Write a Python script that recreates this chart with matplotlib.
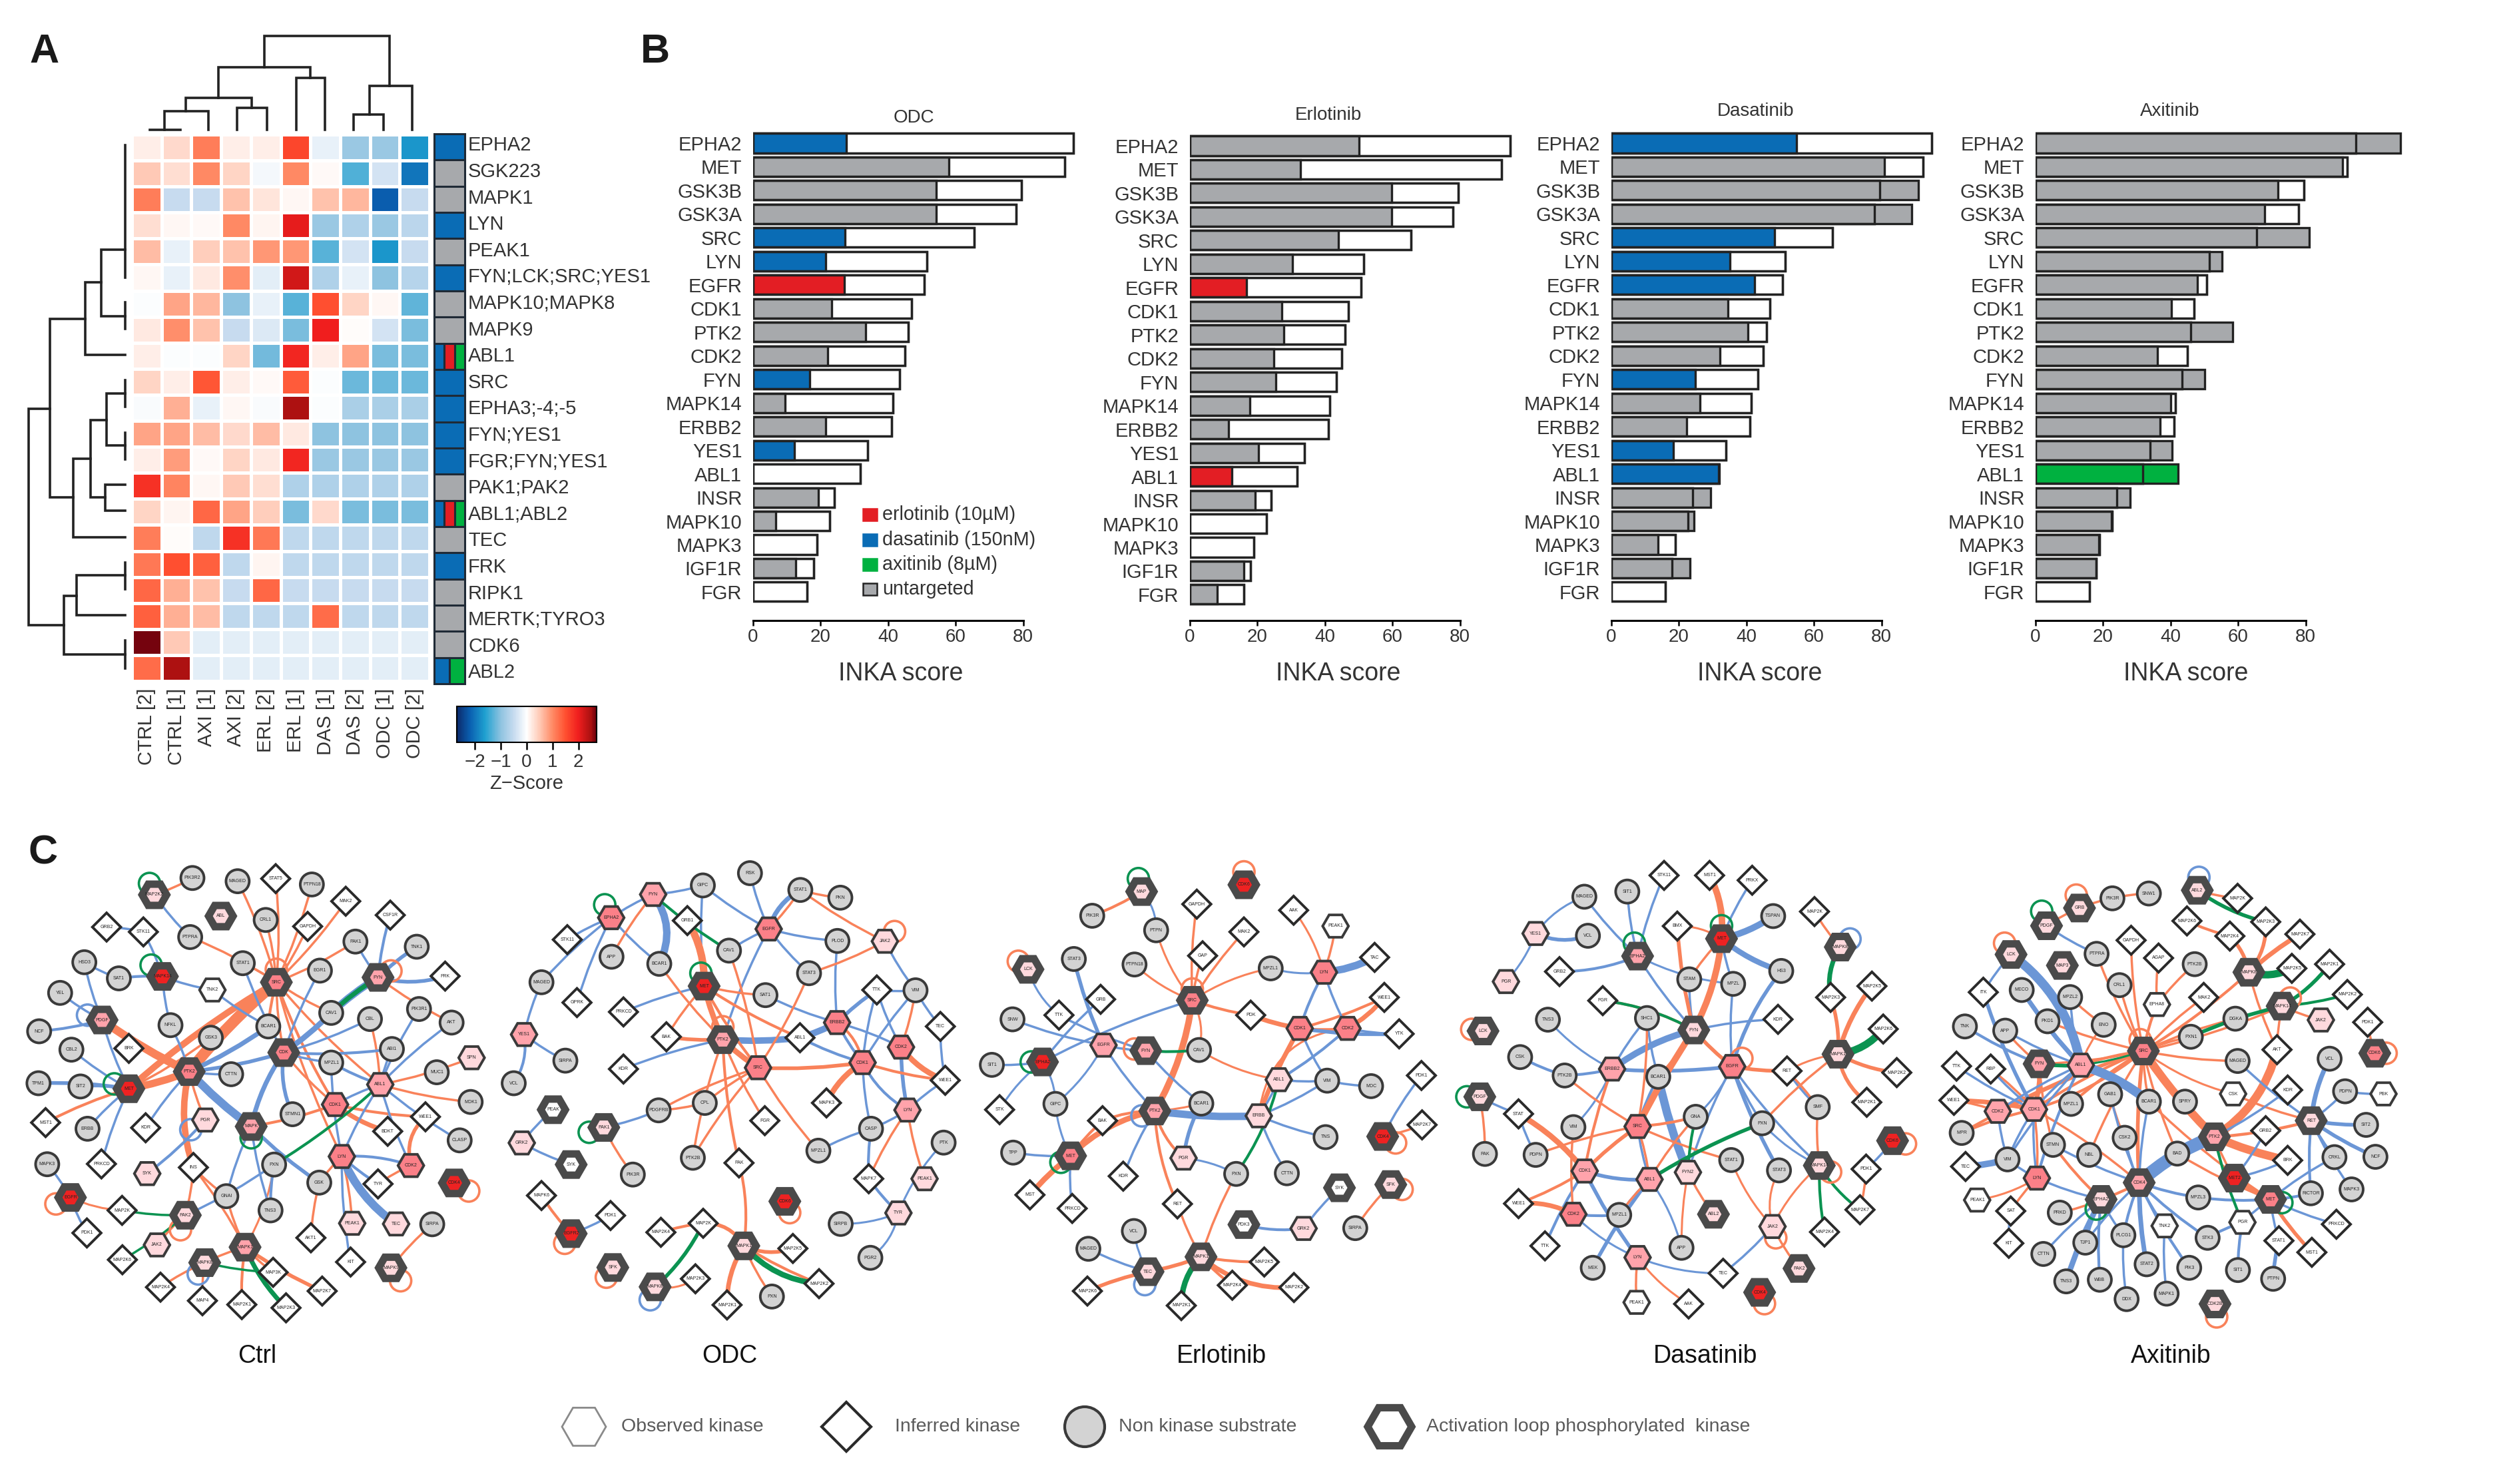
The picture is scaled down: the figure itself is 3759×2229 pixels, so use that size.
import numpy as np
import matplotlib
matplotlib.use("Agg")
import matplotlib.pyplot as plt
from matplotlib.colors import LinearSegmentedColormap
from matplotlib.patches import Circle, PathPatch, Rectangle, RegularPolygon
from matplotlib.path import Path

plt.rcParams["font.family"] = ["Liberation Sans", "DejaVu Sans"]

W, H = 3759, 2229
TEXT = "#333333"

# ---- panel A data
kinases = ["EPHA2", "SGK223", "MAPK1", "LYN", "PEAK1", "FYN;LCK;SRC;YES1", "MAPK10;MAPK8", "MAPK9",
           "ABL1", "SRC", "EPHA3;-4;-5", "FYN;YES1", "FGR;FYN;YES1", "PAK1;PAK2", "ABL1;ABL2", "TEC",
           "FRK", "RIPK1", "MERTK;TYRO3", "CDK6", "ABL2"]
samples = ["CTRL [2]", "CTRL [1]", "AXI [1]", "AXI [2]", "ERL [2]", "ERL [1]", "DAS [1]", "DAS [2]", "ODC [1]", "ODC [2]"]
zscores = [
    [0.15, 0.35, 1.1, 0.15, 0.15, 1.6, -0.2, -0.9, -0.9, -1.7],
    [0.5, 0.3, 1.0, 0.4, -0.1, 1.0, 0.05, -1.35, -0.4, -2.0],
    [1.1, -0.5, -0.5, 0.55, 0.25, 0.08, 0.55, 0.65, -2.2, -0.5],
    [0.3, 0.08, 0.05, 1.0, 0.1, 2.05, -0.9, -0.7, -0.9, -0.6],
    [0.6, -0.2, 0.45, 0.55, 0.9, 0.9, -1.3, -0.4, -1.7, -0.5],
    [0.08, -0.2, 0.2, 0.95, -0.25, 2.2, -0.7, -0.2, -1.0, -0.65],
    [-0.03, 0.8, 0.65, -1.0, -0.2, -1.3, 1.5, 0.4, 0.08, -1.25],
    [0.2, 0.95, 0.55, -0.5, -0.3, -1.1, 2.0, 0.03, -0.4, -1.1],
    [0.15, -0.03, -0.03, 0.4, -1.15, 1.9, 0.15, 0.8, -1.1, -1.1],
    [0.4, 0.15, 1.45, 0.15, 0.05, 1.4, -0.03, -1.2, -1.2, -1.2],
    [-0.05, 0.7, -0.2, 0.07, -0.05, 2.45, -0.03, -0.75, -0.75, -0.75],
    [0.8, 0.8, 0.6, 0.35, 0.6, 0.2, -1.0, -1.0, -1.0, -1.0],
    [0.15, 0.85, 0.05, 0.4, 0.2, 1.9, -0.9, -0.9, -0.9, -0.9],
    [1.8, 1.05, 0.07, 0.5, 0.3, -0.7, -0.7, -0.7, -0.7, -0.7],
    [0.4, 0.1, 1.3, 0.8, 0.45, -1.1, 0.35, -1.1, -1.1, -1.1],
    [1.1, 0.03, -0.55, 1.8, 1.15, -0.55, -0.55, -0.55, -0.55, -0.55],
    [1.15, 1.5, 1.35, -0.55, 0.1, -0.55, -0.55, -0.55, -0.55, -0.55],
    [1.3, 0.7, 0.55, -0.5, 1.3, -0.5, -0.5, -0.5, -0.5, -0.5],
    [1.35, 0.7, 0.6, -0.55, -0.55, -0.55, 1.25, -0.55, -0.55, -0.55],
    [2.65, 0.5, -0.25, -0.25, -0.25, -0.25, -0.25, -0.25, -0.25, -0.25],
    [1.25, 2.45, -0.25, -0.25, -0.25, -0.25, -0.25, -0.25, -0.25, -0.25],
]
# drug targets per row: d dasatinib, e erlotinib, a axitinib, u untargeted
row_targets = ["d", "u", "u", "d", "u", "d", "u", "u", "dea", "d", "d", "d", "d", "u", "dea", "u",
               "d", "u", "u", "u", "da"]
# dendrogram links in figure pixels
col_links = [(397, 585, 54, 101, 129), (328, 466, 101, 147, 117), (555, 619, 129, 172, 195),
             (444.5, 488, 117, 195, 195), (279, 378, 147, 167, 162), (247, 312.5, 167, 195, 195),
             (356, 400.5, 162, 195, 195), (531, 576, 172, 195, 195), (225, 271, 195, 195, 195)]
row_links = [(218, 417, 188, 188, 188), (375, 475, 152, 188, 188), (454, 494, 188, 188, 188),
             (424, 533, 127.5, 152, 188), (479, 747, 75, 127.5, 110), (614, 939, 43, 75, 96),
             (689, 807, 110, 136, 188), (631, 747, 136, 160, 158), (591, 669, 160, 188, 188),
             (571, 611, 188, 188, 188), (650, 690, 188, 188, 188), (728, 767, 158, 188, 188),
             (895, 983, 96, 115, 188), (864, 924, 115, 188, 188), (845, 885, 188, 188, 188),
             (962, 1004, 188, 188, 188)]

# ---- panel B data
bar_kinases = ["EPHA2", "MET", "GSK3B", "GSK3A", "SRC", "LYN", "EGFR", "CDK1", "PTK2", "CDK2", "FYN", "MAPK14",
               "ERBB2", "YES1", "ABL1", "INSR", "MAPK10", "MAPK3", "IGF1R", "FGR"]
ctrl_scores = [94.8, 92.3, 79.5, 77.9, 65.5, 51.5, 50.7, 47, 46, 45, 43.3, 41.4, 41, 34, 31.7, 24, 22.6, 19, 18, 16]
odc_scores = [27.7, 58, 54.3, 54.3, 27.3, 21.5, 27.1, 23.3, 33.3, 22, 16.7, 9.5, 21.5, 12.2, 0, 19.4, 6.7, 0, 12.7, 0]
erl_scores = [50, 32.7, 59.7, 59.7, 44, 30.4, 16.8, 27.2, 27.9, 24.9, 25.4, 17.8, 11.5, 20.3, 12.4, 19.3, 0, 0, 15.9, 8.1]
das_scores = [54.8, 80.8, 91, 89, 48.3, 35.1, 42.5, 34.6, 40.4, 32.2, 24.8, 26.2, 22.3, 18.3, 32, 29.3, 24.4, 13.9, 23.2, 0]
axi_scores = [108, 91, 71.7, 67.8, 81, 55.3, 48, 40.3, 58.3, 36, 50, 40, 36.8, 40.5, 42.3, 28, 22.5, 18.8, 18, 0]
odc_targeted = {"EPHA2": "d", "SRC": "d", "LYN": "d", "EGFR": "e", "FYN": "d", "YES1": "d"}
erl_targeted = {"EGFR": "e", "ABL1": "e"}
das_targeted = {"EPHA2": "d", "SRC": "d", "LYN": "d", "EGFR": "d", "FYN": "d", "YES1": "d", "ABL1": "d"}
axi_targeted = {"ABL1": "a"}

# ---- panel C data: nodes (name, x, y, kind), edges (a, b, colour[, width[, bend]])
# kind: c substrate, d inferred, h observed, a activation loop; second letter is the fill
ctrl_nodes = [
    ("PIK3R2", 555, 80, "c"), ("MAGED", 695, 90, "c"), ("STAT5", 813, 82, "d"), ("PTPN18", 925, 100, "c"),
    ("MAK2", 1030, 152, "d"), ("CSF1R", 1168, 195, "d"), ("CRL1", 782, 210, "c"), ("GAPDH", 912, 230, "d"),
    ("MAP2K2", 437, 132, "ap"), ("ABL", 643, 198, "ap"), ("PTPRA", 548, 263, "c"), ("GRB2", 289, 232, "d"),
    ("STK11", 403, 247, "d"), ("PAK1", 1060, 277, "c"), ("TNK1", 1250, 293, "c"), ("HSD3", 220, 341, "c"),
    ("SAT1", 327, 391, "c"), ("MAPK14", 462, 385, "ar"), ("TNK2", 617, 427, "hw"), ("STAT1", 711, 344, "c"),
    ("SRC", 815, 403, "as"), ("FYN", 1130, 388, "ak"), ("FRK", 1338, 384, "d"), ("YEL", 145, 436, "c"),
    ("EGR1", 950, 367, "c"), ("CAV1", 985, 498, "c"), ("CBL", 1105, 517, "c"), ("PIK3R1", 1257, 486, "c"),
    ("AKT", 1358, 528, "c"), ("PDGF", 275, 520, "ak"), ("NCF", 80, 555, "c"), ("NFKL", 487, 536, "c"),
    ("GSK3", 612, 575, "c"), ("BRK", 358, 608, "d"), ("BCAR1", 790, 540, "c"), ("CDK", 838, 621, "as"),
    ("CBL2", 180, 612, "c"), ("ABI1", 1173, 610, "c"), ("SPN", 1420, 637, "hp"), ("TPM1", 78, 716, "c"),
    ("SIT2", 208, 726, "c"), ("MET", 358, 733, "ar"), ("PTK2", 545, 680, "as"), ("CTTN", 675, 688, "c"),
    ("MPZL1", 985, 652, "c"), ("MUC1", 1312, 682, "c"), ("ABL1", 1137, 720, "hk"), ("MDK1", 1417, 774, "c"),
    ("WEE1", 1277, 820, "d"), ("STMN1", 865, 812, "c"), ("PGR", 595, 830, "hp"), ("MAPK", 737, 850, "ak"),
    ("CDK1", 997, 782, "hs"), ("BDKT", 1160, 865, "d"), ("MST1", 100, 838, "d"), ("ERBB", 230, 857, "c"),
    ("KDR", 410, 854, "d"), ("CLASP", 1383, 893, "c"), ("PRKCD", 273, 966, "d"), ("MAPK3", 105, 967, "c"),
    ("SYK", 415, 996, "hp"), ("INS", 558, 977, "d"), ("PXN", 808, 968, "c"), ("LYN", 1018, 943, "hs"),
    ("CDK2", 1232, 971, "hs"), ("TYR", 1130, 1028, "d"), ("GSK", 948, 1024, "c"), ("EGFR", 177, 1070, "ar"),
    ("GNAI", 660, 1066, "c"), ("CDK4", 1366, 1025, "ar"), ("MAP2K", 337, 1110, "d"), ("PAK2", 533, 1125, "ap"),
    ("TNS3", 797, 1110, "c"), ("PEAK1", 1050, 1150, "hp"), ("TEC", 1186, 1152, "hp"), ("SIRPA", 1298, 1153, "c"),
    ("PDK1", 228, 1180, "d"), ("JAK2", 445, 1217, "hp"), ("MAPK1", 718, 1224, "ak"), ("AKT1", 922, 1195, "d"),
    ("MAP2K6", 338, 1263, "d"), ("MAPK8", 593, 1272, "ap"), ("KIT", 1045, 1270, "d"), ("MAPK9", 1170, 1288, "ap"),
    ("MAP3K", 805, 1302, "d"), ("MAP2K4", 456, 1348, "d"), ("MAP2K7", 957, 1360, "d"), ("MAP4", 586, 1390, "d"),
    ("MAP2K1", 708, 1402, "d"), ("MAP2K3", 845, 1412, "d"),
]
ctrl_edges = [
    ("SRC", "MAGED", "o"), ("SRC", "STAT5", "o"), ("SRC", "PTPN18", "o"), ("SRC", "GAPDH", "o"), ("SRC", "CRL1", "o"),
    ("SRC", "MAK2", "o"), ("SRC", "PAK1", "o"), ("SRC", "STAT1", "o"), ("SRC", "PTPRA", "o"), ("MAP2K2", "PIK3R2", "o"),
    ("SRC", "ABL1", "o"), ("SRC", "PTK2", "o", 12), ("SRC", "MET", "o", 7), ("SRC", "CDK1", "o", 3), ("SRC", "CAV1", "o"),
    ("SRC", "BCAR1", "o", 3), ("SRC", "CDK", "o", 2.5), ("SRC", "LYN", "o"), ("FYN", "AKT", "o"), ("PDGF", "PTK2", "o", 9),
    ("MET", "PTK2", "o", 8), ("MET", "MST1", "o", 3), ("MET", "GSK3", "o"), ("PTK2", "INS", "o", 7, 0.15),
    ("PTK2", "PGR", "o"), ("MAPK", "CDK1", "o", 3), ("CDK1", "BDKT", "o", 5, 0.1), ("CDK1", "WEE1", "o", 3),
    ("ABL1", "SPN", "o"), ("ABL1", "MDK1", "o"), ("ABL1", "CBL", "o"), ("CDK2", "WEE1", "o", 4, -0.3), ("CDK2", "TYR", "o"),
    ("LYN", "GSK", "o"), ("GSK", "AKT1", "o"), ("PEAK1", "LYN", "o"), ("SIRPA", "MAPK9", "o"), ("MAPK1", "PXN", "o", 2.2, 0.1),
    ("MAPK1", "INS", "o"), ("MAPK1", "MAPK8", "o"), ("MAPK1", "MAP2K7", "o", 4), ("MAPK1", "MAP2K1", "o", 3),
    ("MAPK1", "MAP3K", "o"), ("MAPK8", "MAP2K4", "o"), ("MAPK8", "MAP4", "o"), ("EGFR", "MAP2K", "o", 2.2, 0.1),
    ("PAK2", "JAK2", "o"), ("PAK2", "INS", "o"), ("INS", "GNAI", "o"), ("GNAI", "MAPK1", "o"), ("CDK", "CDK1", "o"),
    ("MET", "TPM1", "b", 4), ("MET", "SIT2", "b"), ("MET", "PRKCD", "b"), ("MET", "ERBB", "b"), ("MAP2K2", "PTPRA", "b"),
    ("MAPK14", "SAT1", "b", 3), ("MAPK14", "TNK2", "b"), ("MAPK14", "STK11", "b"), ("MAPK14", "NFKL", "b"),
    ("STK11", "GRB2", "b"), ("HSD3", "SAT1", "b"), ("HSD3", "PDGF", "b"), ("YEL", "PDGF", "b"), ("NCF", "PDGF", "b", 3),
    ("PDGF", "MET", "b"), ("CBL2", "MET", "b"), ("PTK2", "CDK", "b", 4), ("PTK2", "MAPK", "b", 9), ("PTK2", "BCAR1", "b", 5),
    ("PTK2", "CTTN", "b"), ("PTK2", "KDR", "b"), ("PTK2", "NFKL", "b"), ("CDK", "MAPK", "b", 5, 0.1), ("CDK", "MPZL1", "b"),
    ("CDK", "STMN1", "b", 4, 0.15), ("CDK", "ABI1", "b", 3), ("CDK", "CBL", "b"), ("CDK", "CAV1", "b", 6), ("TNK2", "BCAR1", "b"),
    ("STAT1", "CDK", "b"), ("EGR1", "CDK", "b"), ("CSF1R", "FYN", "b", 3), ("TNK1", "FYN", "b", 4), ("PAK1", "FYN", "b"),
    ("FRK", "FYN", "b", 4, -0.15), ("FYN", "CAV1", "b", 8), ("ABI1", "ABL1", "b"), ("PIK3R1", "ABL1", "b"), ("AKT", "ABL1", "b"),
    ("MPZL1", "ABL1", "b", 3), ("MPZL1", "LYN", "b"), ("ABL1", "CDK1", "b"), ("ABL1", "LYN", "b"), ("ABL1", "CLASP", "b"),
    ("ABL1", "CDK2", "b"), ("LYN", "CDK2", "b", 3, -0.1), ("LYN", "TEC", "b", 9, 0.15), ("LYN", "TYR", "b", 3), ("LYN", "KIT", "b"),
    ("MAPK", "GSK", "b", 4), ("MAPK", "TNS3", "b"), ("MAPK", "GNAI", "b"), ("PXN", "TNS3", "b", 3), ("SYK", "PGR", "b", 3),
    ("PAK2", "PXN", "b"), ("EGFR", "MAPK3", "b"), ("EGFR", "PDK1", "b"),
    ("FYN", "CAV1", "g", 5), ("PXN", "ABL1", "g", 3), ("MAP2K", "PAK2", "g"), ("MAP2K6", "PAK2", "g"), ("MAPK8", "MAP3K", "g"),
    ("MAPK1", "MAP2K3", "g", 5, 0.1),
]
ctrl_loops = [("MAP2K2", "g", -15, -35), ("MAPK14", "g", -35, -35), ("PDGF", "b", -45, -15), ("MET", "g", -45, -15),
              ("PGR", "b", -45, 30), ("MAPK", "g", 0, 35), ("SRC", "o", 0, -40), ("FYN", "o", 40, -20), ("EGFR", "o", -45, 20),
              ("PAK2", "o", -15, 45), ("CDK4", "o", 45, 25), ("MAPK8", "b", -20, 35), ("MAPK9", "o", 30, 40)]

odc_nodes = [
    ("RSK", 797, 65, "c"), ("GIPC", 651, 103, "c"), ("FYN", 497, 131, "hk"), ("STAT1", 953, 117, "c"), ("PKN", 1077, 141, "c"),
    ("EPHA2", 367, 203, "hs"), ("GRB1", 603, 212, "d"), ("EGFR", 855, 238, "hs"), ("JAK2", 1215, 276, "hp"), ("PLOD", 1068, 275, "c"),
    ("STK11", 231, 271, "d"), ("CAV1", 732, 305, "c"), ("APP", 368, 324, "c"), ("BCAR1", 516, 346, "c"), ("STAT3", 980, 375, "c"),
    ("MET", 655, 415, "ar"), ("MAGED", 151, 403, "c"), ("TTK", 1190, 427, "d"), ("VIM", 1310, 428, "c"), ("SAT1", 845, 443, "c"),
    ("GPRK", 261, 466, "d"), ("PRKCD", 405, 495, "d"), ("ERBB2", 1067, 528, "hs"), ("TEC", 1387, 540, "d"), ("YES1", 97, 565, "hk"),
    ("BAK", 538, 572, "d"), ("PTK2", 713, 581, "ak"), ("ABL1", 952, 575, "d"), ("CDK2", 1265, 604, "hs"), ("SIRPA", 225, 646, "c"),
    ("KDR", 405, 672, "d"), ("SRC", 822, 668, "hs"), ("CDK1", 1146, 652, "hs"), ("WEE1", 1402, 707, "d"), ("VCL", 65, 716, "c"),
    ("MAPK3", 1034, 777, "d"), ("CPL", 657, 777, "c"), ("PDGFRB", 514, 800, "c"), ("PEAK", 187, 798, "aw"), ("LYN", 1285, 799, "hk"),
    ("FGR", 843, 832, "d"), ("PAK1", 344, 853, "ap"), ("CASP", 1172, 857, "c"), ("GRK2", 90, 901, "hp"), ("PTK", 1397, 900, "c"),
    ("MPZL1", 1009, 925, "c"), ("PTK2B", 620, 947, "c"), ("PAK", 763, 963, "d"), ("SYK", 243, 968, "aw"), ("PIK3R", 434, 999, "c"),
    ("MAPK7", 1165, 1012, "d"), ("PEAK1", 1338, 1012, "hp"), ("MAPK6", 151, 1064, "d"), ("CDK6", 905, 1082, "ar"), ("PDK1", 365, 1126, "d"),
    ("TYR", 1257, 1118, "hp"), ("SIRPB", 1078, 1152, "c"), ("MAP2K4", 521, 1178, "d"), ("MAP2K", 652, 1150, "d"), ("EGFR2", 243, 1182, "ar"),
    ("MAPK1", 778, 1220, "ap"), ("MAP2K5", 930, 1228, "d"), ("PGR2", 1170, 1257, "c"), ("SFK", 372, 1287, "ap"), ("MAP2K3", 628, 1322, "d"),
    ("MAP2K2", 1011, 1337, "d"), ("MAPK8", 503, 1347, "ap"), ("PXN", 865, 1377, "c"), ("MAP2K1", 726, 1403, "d"),
]
odc_edges = [
    ("FYN", "GIPC", "b"), ("FYN", "EPHA2", "b"), ("FYN", "BCAR1", "b", 8, -0.3), ("EPHA2", "BCAR1", "b"), ("EPHA2", "STK11", "b"),
    ("EPHA2", "MAGED", "b"), ("EPHA2", "GPRK", "b"), ("GIPC", "EGFR", "b"), ("GIPC", "MET", "b"), ("RSK", "EGFR", "b"),
    ("STAT1", "EGFR", "b", 5, 0.2), ("EGFR", "CAV1", "b"), ("EGFR", "PLOD", "b"), ("EGFR", "STAT3", "b"), ("EGFR", "PTK2", "b"),
    ("PLOD", "ERBB2", "b"), ("JAK2", "VIM", "b"), ("TTK", "VIM", "b"), ("TTK", "ERBB2", "b", 4), ("TTK", "CDK1", "b"), ("TTK", "CDK2", "b"),
    ("VIM", "TEC", "b"), ("VIM", "CDK1", "b"), ("ERBB2", "CDK1", "b", 3), ("CDK2", "ERBB2", "b"), ("CDK2", "LYN", "b", 4), ("TEC", "WEE1", "b"),
    ("WEE1", "LYN", "b"), ("LYN", "CDK1", "b", 3, -0.15), ("CDK1", "CASP", "b"), ("CASP", "MPZL1", "b"), ("CASP", "LYN", "b"),
    ("CASP", "MAPK7", "b", 3), ("MAPK7", "TYR", "b", 3), ("PTK", "TYR", "b", 2.2, 0.1), ("TYR", "SIRPB", "b", 2.2, -0.1), ("TYR", "PGR2", "b", 2.2, -0.2),
    ("MET", "PRKCD", "b"), ("PTK2", "KDR", "b"), ("PTK2", "ABL1", "b", 7), ("ABL1", "ERBB2", "b", 7), ("ABL1", "CDK1", "b", 3),
    ("SAT1", "ERBB2", "b"), ("MAGED", "YES1", "b"), ("YES1", "SIRPA", "b"), ("YES1", "VCL", "b", 3, -0.2), ("PAK1", "PDGFRB", "b"),
    ("PEAK", "GRK2", "b"), ("GRK2", "SYK", "b"), ("EGFR2", "PDK1", "b"),
    ("FYN", "APP", "o"), ("MET", "GRB1", "o", 8, 0.15), ("MET", "PTK2", "o", 6), ("MET", "SRC", "o", 3), ("MET", "SAT1", "o"), ("MET", "BAK", "o"),
    ("MET", "ABL1", "o", 3), ("BCAR1", "PTK2", "o"), ("BAK", "PTK2", "o", 4), ("SRC", "CAV1", "o"), ("SRC", "STAT3", "o"), ("SRC", "CDK1", "o", 4),
    ("PTK2", "SRC", "o", 6), ("PTK2", "FGR", "o"), ("PTK2", "PAK", "o", 3), ("PTK2", "PTK2B", "o"), ("SRC", "CPL", "o"), ("SRC", "PDGFRB", "o"),
    ("SRC", "MPZL1", "o"), ("SRC", "PTK2B", "o"), ("CDK1", "MAPK3", "o", 6, 0.15), ("CDK1", "WEE1", "o", 3), ("CDK2", "WEE1", "o", 6, 0.15),
    ("CDK2", "VIM", "o"), ("ERBB2", "CDK1", "o", 3, -0.2), ("LYN", "MAPK7", "o"), ("LYN", "PEAK1", "o"), ("STAT3", "JAK2", "o"), ("STAT1", "PKN", "o"),
    ("EGFR", "STAT1", "o"), ("STAT1", "JAK2", "o"), ("PDGFRB", "CPL", "o"), ("PAK1", "PIK3R", "o"), ("MAPK6", "EGFR2", "o", 3), ("PAK", "MAPK1", "o", 3, -0.1),
    ("MAPK1", "MAP2K", "o", 4, 0.3), ("MAP2K", "MAP2K4", "o", 3), ("MAPK1", "MAP2K5", "o", 4, 0.2), ("MAPK1", "MAP2K2", "o", 3), ("MAPK1", "PXN", "o"),
    ("MAPK1", "MAP2K1", "o", 5, 0.15), ("MAPK8", "MAP2K3", "o", 2.2, 0.2),
    ("FYN", "CAV1", "g", 3), ("MAPK8", "MAP2K", "g", 4, 0.1), ("MAPK1", "MAP2K2", "g", 6, 0.2),
]
odc_loops = [("EPHA2", "g", -20, -40), ("MET", "g", -10, -40), ("PAK1", "g", -45, 15), ("JAK2", "o", 30, -30), ("CDK6", "o", 15, 35),
             ("EGFR2", "o", -20, 30), ("SFK", "o", -20, 30), ("MAPK8", "b", -15, 40), ("PTK2", "o", 0, -40)]

erl_nodes = [
    ("CDK6", 842, 101, "ar"), ("MAP", 525, 122, "ap"), ("GAPDH", 696, 161, "d"), ("AAK", 996, 180, "d"), ("PIK3R", 372, 197, "c"),
    ("PEAK1", 1126, 229, "hw"), ("PTPN", 570, 242, "c"), ("MAK2", 842, 247, "d"), ("GAP", 714, 321, "d"), ("TAC", 1247, 326, "d"),
    ("STAT3", 315, 331, "c"), ("PTPN18", 503, 348, "c"), ("LCK", 173, 363, "ap"), ("MPZL1", 925, 360, "c"), ("LYN", 1090, 372, "hs"),
    ("SRC", 682, 459, "as"), ("WEE1", 1277, 450, "d"), ("GRB", 398, 456, "d"), ("TTK", 269, 505, "d"), ("PDK", 863, 505, "d"),
    ("SNW", 125, 518, "c"), ("CDK1", 1015, 546, "hs"), ("CDK2", 1163, 546, "hs"), ("YTK", 1323, 563, "d"), ("EGFR", 407, 598, "hk"),
    ("FYN", 538, 615, "ak"), ("CAV1", 703, 613, "c"), ("SIT1", 61, 659, "c"), ("EPHA2", 218, 650, "ar"), ("PDK1", 1392, 692, "d"),
    ("ABL1", 950, 705, "hp"), ("VIM", 1100, 708, "c"), ("MDC", 1236, 725, "c"), ("GIPC", 258, 780, "c"), ("STK", 85, 798, "d"),
    ("BCAR1", 710, 779, "c"), ("PTK2", 566, 802, "ak"), ("BAK", 404, 832, "d"), ("ERBB", 888, 817, "hp"), ("TNS", 1095, 883, "c"),
    ("CDK4", 1272, 881, "ar"), ("MAP2K7", 1394, 845, "d"), ("TPP", 127, 931, "c"), ("MET", 305, 941, "as"), ("PGR", 655, 948, "hp"),
    ("PXN", 818, 997, "c"), ("CTTN", 975, 995, "c"), ("KDR", 468, 1004, "d"), ("SYK", 1138, 1040, "aw"), ("SFK", 1297, 1030, "ap"),
    ("MST", 179, 1062, "d"), ("RET", 636, 1090, "d"), ("PRKCD", 310, 1104, "d"), ("VCL", 501, 1174, "c"), ("PDK3", 842, 1154, "aw"),
    ("GRK2", 1027, 1166, "hp"), ("SIRPA", 1187, 1165, "c"), ("MAGED", 360, 1229, "c"), ("MAPK1", 709, 1254, "ap"), ("MAP2K5", 905, 1270, "d"),
    ("TEC", 545, 1300, "ap"), ("MAP2K4", 806, 1342, "d"), ("MAP2K2", 997, 1349, "d"), ("MAP2K6", 357, 1360, "d"), ("MAP2K1", 648, 1405, "d"),
]
erl_edges = [
    ("PIK3R", "MAP", "o", 3), ("PTPN", "SRC", "o", 2.2, 0.1), ("PTPN18", "SRC", "o", 2.2, 0.1), ("GAPDH", "SRC", "o"), ("MAK2", "SRC", "o"),
    ("GAP", "SRC", "o"), ("MPZL1", "SRC", "o", 2.2, 0.1), ("SRC", "PDK", "o", 3), ("PDK", "CDK1", "o", 5), ("SRC", "CAV1", "o", 2.2, -0.2),
    ("SRC", "PTK2", "o", 7, -0.1), ("CDK1", "CDK2", "o", 3), ("CDK1", "ERBB", "o", 5), ("CDK2", "WEE1", "o", 5, 0.1), ("CDK1", "WEE1", "o", 3),
    ("CDK2", "ERBB", "o", 2.2, 0.4), ("LYN", "AAK", "o", 2.2, 0.1), ("LYN", "PEAK1", "o"), ("CAV1", "ABL1", "o", 2.2, 0.1), ("PTK2", "BCAR1", "o", 2.2),
    ("PTK2", "BAK", "o", 3, 0.1), ("PTK2", "MET", "o", 6, 0.15), ("BAK", "MET", "o", 3), ("MET", "MST", "o", 6), ("PTK2", "RET", "o", 3, 0.1),
    ("PTK2", "PGR", "o", 3, 0.15), ("RET", "MAPK1", "o"), ("PXN", "MAPK1", "o"), ("TEC", "MAPK1", "o", 4), ("TEC", "MAP2K6", "o", 4), ("MAPK1", "MAP2K5", "o", 3),
    ("MAPK1", "MAP2K2", "o", 5, 0.2), ("MAPK1", "MAP2K4", "o", 3), ("CDK4", "MAP2K7", "o"), ("SFK", "SIRPA", "o"),
    ("MAP", "PTPN", "b", 2.2, -0.2), ("LCK", "TTK", "b", 2.2, 0.15), ("STAT3", "EGFR", "b", 4, 0.05), ("TTK", "FYN", "b"), ("GRB", "EPHA2", "b"),
    ("SNW", "EGFR", "b"), ("EGFR", "FYN", "b"), ("EGFR", "GIPC", "b", 2.2, -0.1), ("EGFR", "PTK2", "b"), ("FYN", "BCAR1", "b"), ("SRC", "EPHA2", "b"),
    ("SIT1", "EPHA2", "b"), ("STK", "EPHA2", "b", 2.2, -0.1), ("EPHA2", "GIPC", "b", 2.2, -0.15), ("GIPC", "MET", "b", 2.2, 0.1), ("TPP", "MET", "b"),
    ("MET", "PRKCD", "b"), ("PTK2", "ERBB", "b", 8, 0.05), ("PTK2", "KDR", "b"), ("BCAR1", "PGR", "b", 4, 0.1), ("PGR", "PXN", "b", 2.2, -0.1), ("ERBB", "ABL1", "b"),
    ("ERBB", "TNS", "b"), ("ERBB", "CTTN", "b"), ("ABL1", "VIM", "b"), ("VIM", "MDC", "b"), ("ABL1", "CDK2", "b", 3), ("CDK1", "VIM", "b"), ("CDK1", "YTK", "b", 4, 0.05),
    ("CDK2", "YTK", "b"), ("MPZL1", "LYN", "b", 2.2, 0.1), ("LYN", "TAC", "b", 8, 0.1), ("LYN", "CDK1", "b", 3), ("LYN", "CDK2", "b"), ("PDK1", "CDK4", "b"),
    ("SYK", "GRK2", "b"), ("PDK3", "GRK2", "b", 3, 0.1), ("VCL", "TEC", "b", 2.2, 0.1), ("MAGED", "TEC", "b"), ("ERBB", "VIM", "b"),
    ("FYN", "CAV1", "g", 3), ("ABL1", "PXN", "g", 3, -0.1), ("MAPK1", "MAP2K1", "g", 6, 0.2),
]
erl_loops = [("MAP", "g", -10, -40), ("CDK6", "o", 0, -40), ("LCK", "o", -30, -25), ("SRC", "o", 0, -35), ("EPHA2", "g", -35, 0), ("FYN", "o", -35, -5),
             ("PTK2", "b", -40, 15), ("MET", "g", -30, 20), ("CDK4", "o", 40, 20), ("SFK", "o", 35, 15), ("TEC", "b", -10, 40)]

das_nodes = [
    ("STK11", 679, 72, "d"), ("MST1", 820, 72, "d"), ("SIT1", 565, 122, "c"), ("PRKX", 952, 87, "d"), ("MAGED", 432, 138, "c"), ("MAP2K", 1145, 184, "d"),
    ("TSPAN", 1017, 198, "c"), ("BMX", 720, 229, "d"), ("YES1", 281, 252, "hp"), ("VCL", 443, 259, "c"), ("MET", 857, 268, "ar"), ("EPHA2", 597, 322, "ak"),
    ("MAPK8", 1225, 294, "ap"), ("HS3", 1042, 368, "c"), ("GRB2", 355, 370, "d"), ("PGR", 189, 401, "hp"), ("STAM", 757, 394, "c"), ("MPZL", 893, 408, "c"),
    ("MAP2K5", 1323, 415, "d"), ("MAP2K3", 1195, 450, "d"), ("FGR", 489, 460, "d"), ("TNS3", 319, 519, "c"), ("SHC1", 626, 514, "c"), ("KDR", 1032, 518, "d"),
    ("FYN", 771, 551, "ap"), ("LCK", 118, 554, "ap"), ("MAP2K6", 1358, 548, "d"), ("CSK", 233, 635, "c"), ("MAPK1", 1218, 626, "ap"), ("ERBB2", 518, 672, "hk"),
    ("EGFR", 890, 664, "hs"), ("RET", 1060, 678, "d"), ("PTK2B", 371, 692, "c"), ("BCAR1", 661, 696, "c"), ("MAP2K2", 1400, 683, "d"), ("PDGF", 108, 758, "ap"),
    ("STAT", 228, 811, "d"), ("MAP2K1", 1307, 775, "d"), ("SMF", 1155, 790, "c"), ("SRC", 597, 850, "hs"), ("GNA", 777, 820, "c"), ("VIM", 398, 852, "c"),
    ("PXN", 983, 840, "c"), ("CDK6", 1387, 894, "ar"), ("PAK", 124, 935, "c"), ("PDPN", 281, 938, "c"), ("STAT1", 887, 954, "c"), ("CDK1", 433, 988, "hk"),
    ("FYN2", 753, 992, "hp"), ("ABL1", 634, 1014, "hk"), ("STAT3", 1035, 986, "c"), ("MAPK14", 1160, 971, "ap"), ("PDK1", 1305, 982, "d"), ("WEE1", 228, 1089, "d"),
    ("ABL2", 832, 1122, "ap"), ("MPZL1", 540, 1124, "c"), ("CDK2", 398, 1122, "hs"), ("MAP2K7", 1286, 1108, "d"), ("JAK2", 1015, 1160, "hp"), ("MAP2K4", 1176, 1177, "d"),
    ("TTK", 310, 1220, "d"), ("APP", 733, 1226, "c"), ("LYN", 597, 1256, "hk"), ("PAK2", 1097, 1290, "ap"), ("MEK", 458, 1288, "c"), ("TEC", 862, 1305, "d"),
    ("CDK4", 975, 1364, "ar"), ("PEAK1", 594, 1395, "hw"), ("AAK", 755, 1400, "d"),
]
das_edges = [
    ("MAGED", "YES1", "b", 2.2, 0.15), ("YES1", "VCL", "b", 4, 0.2), ("YES1", "PGR", "b", 2.2, -0.1), ("MAGED", "EPHA2", "b"), ("SIT1", "EPHA2", "b"), ("STK11", "EPHA2", "b"),
    ("GRB2", "EPHA2", "b", 3, 0.1), ("EPHA2", "MPZL", "b", 2.2, 0.1), ("EPHA2", "FYN", "b"), ("PRKX", "MET", "b"), ("TSPAN", "MET", "b", 7, -0.1), ("MET", "HS3", "b", 6, 0.1),
    ("MET", "MPZL", "b"), ("STAM", "FYN", "b"), ("MPZL", "EGFR", "b"), ("HS3", "EGFR", "b", 4, 0.1), ("TNS3", "ERBB2", "b", 2.2, 0.1), ("CSK", "PTK2B", "b", 3), ("PTK2B", "ERBB2", "b", 3),
    ("ERBB2", "FYN", "b", 7, -0.1), ("ERBB2", "EGFR", "b", 4), ("SHC1", "ERBB2", "b"), ("SHC1", "BCAR1", "b"), ("KDR", "FYN", "b"), ("FYN", "EGFR", "b", 3), ("EGFR", "GNA", "b", 2.2, -0.1),
    ("EGFR", "FYN2", "b"), ("EGFR", "STAT3", "b", 4), ("EGFR", "PXN", "b"), ("VIM", "ERBB2", "b", 2.2, 0.1), ("BCAR1", "FYN2", "b", 9), ("BCAR1", "SRC", "b", 3), ("SRC", "ABL1", "b"),
    ("CDK1", "ABL1", "b", 4, 0.1), ("CDK1", "TTK", "b", 3), ("CDK1", "LYN", "b", 4), ("PDGF", "STAT", "b"), ("STAT", "PDPN", "b"), ("CDK2", "MPZL1", "b", 3), ("CDK2", "LYN", "b", 2.2, 0.1),
    ("ABL1", "MEK", "b", 4), ("ABL1", "APP", "b", 2.2, -0.1), ("ABL1", "MPZL1", "b"), ("LYN", "TEC", "b", 2.2, 0.1), ("TEC", "JAK2", "b"), ("PXN", "MAPK14", "b", 2.2, 0.1), ("EGFR", "MAPK14", "b"),
    ("RET", "SMF", "b"), ("PDK1", "CDK6", "b"),
    ("MST1", "MET", "o", 7, -0.15), ("MET", "FYN", "o", 7, -0.1), ("BMX", "MET", "o", 2.2, -0.15), ("BMX", "FYN", "o", 4, 0.05), ("MET", "STAM", "o"), ("FYN", "SRC", "o", 7, 0.03), ("FGR", "FYN", "o", 3, -0.1),
    ("FYN", "EGFR", "o", 4), ("EGFR", "RET", "o", 4), ("RET", "MAPK1", "o", 2.2, -0.1), ("MAP2K", "MAPK8", "o"), ("MAP2K3", "MAPK1", "o", 4, -0.1), ("MAP2K5", "MAPK1", "o", 5, 0.1), ("MAPK1", "MAP2K2", "o", 4, 0.1),
    ("MAPK1", "MAP2K1", "o", 4, 0.2), ("MAPK1", "PXN", "o"), ("SMF", "RET", "o"), ("SMF", "MAPK14", "o"), ("STAT", "CDK1", "o", 6, -0.1), ("SRC", "SHC1", "o"), ("BCAR1", "FYN", "o"), ("ERBB2", "CDK1", "o", 3),
    ("SRC", "GNA", "o", 3), ("SRC", "PDPN", "o"), ("SRC", "CDK1", "o", 4), ("SRC", "STAT1", "o"), ("PTK2B", "SRC", "o"), ("WEE1", "CDK1", "o", 3), ("WEE1", "CDK2", "o", 5, -0.15), ("VIM", "CDK2", "o"),
    ("GNA", "ABL1", "o"), ("ABL1", "SRC", "o"), ("ABL1", "MPZL1", "o"), ("FYN2", "APP", "o", 2.2, 0.05), ("FYN2", "ABL2", "o"), ("STAT1", "JAK2", "o", 2.2, 0.1), ("STAT3", "JAK2", "o", 2.2, 0.2),
    ("MAPK14", "JAK2", "o", 2.2, 0.1), ("JAK2", "PAK2", "o"), ("PAK", "PDGF", "o"), ("LYN", "PEAK1", "o"), ("LYN", "AAK", "o", 2.2, 0.1), ("MAP2K7", "PDK1", "o"),
    ("FGR", "FYN", "g", 3, -0.1), ("PXN", "ABL1", "g", 4), ("GNA", "FYN2", "g", 3), ("MAPK8", "MAP2K3", "g", 5, 0.2), ("MAPK1", "MAP2K6", "g", 8, 0.2), ("MAPK14", "MAP2K4", "g", 3), ("MAPK14", "MAP2K7", "g", 3, 0.1),
]
das_loops = [("EPHA2", "g", -10, -40), ("MET", "g", 0, -40), ("MAPK8", "b", 30, -25), ("LCK", "o", -35, -5), ("PDGF", "g", -40, 0), ("EGFR", "o", 30, -25), ("CDK6", "o", 40, 10),
             ("MAPK14", "o", 35, 20), ("JAK2", "o", 10, 35), ("CDK4", "o", 15, 35)]

axi_nodes = [
    ("SNW1", 675, 128, "c"), ("ABL2", 825, 118, "ap"), ("PIK3R", 562, 143, "c"), ("MAP2K", 950, 143, "d"), ("GRB", 460, 173, "ap"), ("PDGF", 358, 228, "ap"), ("MAP2K6", 793, 213, "d"),
    ("MAP2K3", 1037, 216, "d"), ("MAP2K4", 926, 260, "d"), ("MAP2K7", 1143, 254, "d"), ("GAPDH", 620, 273, "d"), ("PTPRA", 513, 315, "c"), ("LCK", 248, 317, "ap"), ("AGAP", 705, 328, "d"),
    ("PTK2B", 817, 347, "c"), ("MAP3", 407, 351, "ap"), ("MAPK8", 985, 372, "ap"), ("MAP2K5", 1118, 360, "d"), ("MAP2K1", 1235, 347, "d"), ("MECO", 281, 427, "c"), ("ITK", 162, 434, "d"),
    ("CRL1", 584, 412, "c"), ("MPZL2", 431, 449, "c"), ("MAK2", 845, 450, "d"), ("MAP2K2", 1290, 441, "d"), ("EPHA8", 700, 472, "hw"), ("MAPK14", 1088, 477, "ap"), ("TNK", 105, 540, "c"),
    ("PKD1", 361, 524, "c"), ("ENO", 535, 535, "c"), ("DGKA", 943, 516, "c"), ("JAK2", 1208, 520, "hp"), ("PDK1", 1353, 527, "d"), ("APP", 230, 553, "c"), ("SRC", 658, 616, "as"),
    ("PXN1", 805, 572, "c"), ("AKT", 1072, 612, "d"), ("FYN", 335, 656, "ak"), ("ABL1", 464, 660, "hk"), ("MAGED", 950, 647, "c"), ("VCL", 1235, 640, "c"), ("CDK6", 1375, 623, "as"),
    ("TTK", 79, 663, "d"), ("RBP", 185, 672, "d"), ("GAB1", 555, 750, "c"), ("BCAR1", 675, 773, "c"), ("SPRY", 787, 773, "c"), ("CSK", 936, 749, "hw"), ("KDR", 1105, 737, "d"),
    ("PDPN", 1283, 741, "c"), ("PBK", 1402, 749, "hw"), ("WEE1", 71, 769, "d"), ("CDK2", 207, 803, "hk"), ("CDK1", 319, 797, "hk"), ("MPZL1", 434, 780, "c"), ("MPR", 95, 870, "c"),
    ("RET", 1178, 832, "ap"), ("SIT2", 1348, 845, "c"), ("PTK2", 878, 882, "ak"), ("GRB2", 1037, 863, "d"), ("CSK2", 600, 885, "c"), ("CRKL", 1250, 945, "c"), ("NCF", 1377, 944, "c"),
    ("STMN", 378, 907, "c"), ("VIM", 237, 952, "c"), ("NBL", 490, 938, "c"), ("BAD", 763, 934, "c"), ("BRK", 1105, 955, "d"), ("TEC", 107, 974, "d"), ("MET2", 940, 1010, "ar"),
    ("LYN", 328, 1010, "hs"), ("CDK4", 645, 1024, "ak"), ("EPHA2", 527, 1076, "ap"), ("MPZL3", 828, 1070, "c"), ("MET", 1052, 1076, "as"), ("RICTOR", 1177, 1057, "c"), ("MAPK3", 1303, 1045, "c"),
    ("PEAK1", 143, 1078, "hw"), ("SAT", 247, 1112, "d"), ("PRKD", 399, 1117, "c"), ("PGR", 965, 1147, "hw"), ("PRKCD", 1256, 1153, "d"), ("TJP1", 478, 1210, "c"), ("PLCG1", 596, 1187, "c"),
    ("TNK2", 724, 1158, "hw"), ("STK3", 857, 1195, "c"), ("STAT1", 1078, 1204, "d"), ("KIT", 241, 1212, "d"), ("CTTN", 348, 1245, "c"), ("MST1", 1180, 1240, "d"), ("STAT2", 668, 1277, "c"),
    ("PIK3", 800, 1288, "c"), ("SIT1", 951, 1295, "c"), ("TNS3", 419, 1330, "c"), ("WBB", 523, 1325, "c"), ("PTPN", 1060, 1322, "c"), ("DDX", 606, 1385, "c"), ("MAPK1", 730, 1368, "c"),
    ("CDK2B", 880, 1400, "ap"),
]
axi_edges = [
    ("SNW1", "PIK3R", "o"), ("PIK3R", "GRB", "o"), ("GRB", "PDGF", "o"), ("MAP2K6", "MAP2K4", "o", 3), ("MAP2K4", "MAPK8", "o", 4, -0.15), ("MAP2K3", "MAPK8", "o", 4, -0.2), ("MAP2K7", "MAPK8", "o", 5),
    ("ABL2", "MAP2K", "o"), ("GAPDH", "SRC", "o"), ("AGAP", "EPHA8", "o"), ("PTK2B", "EPHA8", "o"), ("EPHA8", "SRC", "o", 3), ("PTPRA", "SRC", "o"), ("CRL1", "SRC", "o"), ("MPZL2", "ENO", "o"),
    ("ENO", "ABL1", "o", 2.2, 0.1), ("PKD1", "SRC", "o"), ("APP", "FYN", "o"), ("FYN", "SRC", "o"), ("MAK2", "SRC", "o"), ("DGKA", "SRC", "o"), ("PXN1", "SRC", "o"), ("SRC", "MAPK8", "o", 3), ("SRC", "MAPK14", "o"),
    ("MAPK14", "JAK2", "o"), ("MAPK8", "AKT", "o"), ("MAPK14", "AKT", "o"), ("AKT", "PTK2", "o", 9, -0.2), ("SRC", "PTK2", "o", 9), ("SRC", "MAGED", "o"), ("SRC", "CSK", "o", 2.2, 0.1), ("CSK", "RET", "o"),
    ("SRC", "ABL1", "o", 3), ("SRC", "CDK1", "o", 3), ("CDK1", "SRC", "o", 3, 0.1), ("SRC", "CDK2", "o"), ("SRC", "MPR", "o", 3), ("SRC", "MPZL1", "o", 3), ("SRC", "BAD", "o"), ("SRC", "NBL", "o"), ("SRC", "BCAR1", "o"),
    ("CDK1", "WEE1", "o", 5), ("CDK2", "WEE1", "o"), ("CDK1", "MPR", "o", 3), ("CDK1", "FYN", "o", 5, 0.1), ("CDK1", "RBP", "o"), ("FYN", "STMN", "o"), ("STMN", "EPHA2", "o", 3), ("LYN", "PEAK1", "o", 2.2, -0.1),
    ("LYN", "SAT", "o"), ("LYN", "CDK1", "o"), ("PRKD", "EPHA2", "o"), ("EPHA2", "CDK4", "o", 3), ("CDK4", "CDK1", "o"), ("PTK2", "RET", "o"), ("PTK2", "GRB2", "o"), ("GRB2", "RET", "o"), ("PTK2", "MET2", "o"),
    ("PTK2", "BRK", "o", 9), ("MET2", "MET", "o", 4), ("MET", "MST1", "o", 4), ("PDK1", "CDK6", "o"), ("BAD", "MET", "o"), ("BCAR1", "MET", "o"), ("GAB1", "CSK2", "o"), ("SRC", "CDK4", "o", 4),
    ("PDGF", "PTPRA", "b"), ("LCK", "ITK", "b"), ("LCK", "ABL1", "b", 10, -0.2), ("MECO", "ABL1", "b", 5), ("ITK", "CDK1", "b", 4), ("TNK", "FYN", "b", 3), ("APP", "ABL1", "b"), ("RBP", "CDK1", "b"), ("TTK", "CDK1", "b"),
    ("MPZL2", "ABL1", "b"), ("ABL1", "BCAR1", "b", 10, -0.1), ("ABL1", "CDK1", "b"), ("ABL1", "CDK2", "b"), ("ABL1", "LYN", "b", 3), ("ABL1", "VIM", "b"), ("CDK1", "LYN", "b"), ("CDK1", "VIM", "b"), ("CDK2", "VIM", "b"),
    ("TEC", "VIM", "b", 7), ("VIM", "LYN", "b"), ("LYN", "EPHA2", "b"), ("SAT", "KIT", "b"), ("GAB1", "CDK4", "b"), ("BCAR1", "CDK4", "b"), ("CSK2", "CDK4", "b"), ("STMN", "CDK4", "b"), ("PTK2", "CDK4", "b", 14, 0.1),
    ("CDK4", "MPZL3", "b", 3), ("CDK4", "TNK2", "b"), ("CDK4", "STK3", "b", 3), ("CDK4", "PLCG1", "b", 3), ("CDK4", "STAT2", "b", 5), ("CDK4", "PIK3", "b", 3), ("CDK4", "TJP1", "b"), ("EPHA2", "TJP1", "b", 3), ("EPHA2", "TNS3", "b", 6),
    ("EPHA2", "CTTN", "b"), ("EPHA2", "WBB", "b", 3), ("EPHA2", "PLCG1", "b"), ("PLCG1", "DDX", "b"), ("TNK2", "MAPK1", "b"), ("PTK2", "KDR", "b"), ("RET", "VCL", "b", 5, -0.1), ("RET", "PDPN", "b"), ("PDPN", "PBK", "b"),
    ("RET", "SIT2", "b", 4), ("RET", "NCF", "b", 4), ("RET", "CRKL", "b"), ("RET", "MAPK3", "b"), ("RET", "RICTOR", "b", 3), ("CRKL", "MET", "b"), ("MAGED", "RET", "b"), ("MET", "RICTOR", "b", 3), ("MET", "PRKCD", "b"),
    ("MET", "PGR", "b"), ("MET", "STAT1", "b"), ("PGR", "STK3", "b", 3), ("PGR", "SIT1", "b", 3), ("STAT1", "PTPN", "b", 4), ("MET2", "GRB2", "b"), ("MPZL3", "MET", "b", 3), ("MET2", "BRK", "b"),
    ("ABL2", "MAP2K3", "g", 4, 0.1), ("MAPK8", "MAP2K5", "g", 8, 0.2), ("MAPK14", "MAP2K1", "g", 4, 0.1), ("MAPK14", "MAP2K2", "g", 3), ("MAPK14", "PXN1", "g", 4), ("FYN", "ABL1", "g", 4), ("ABL1", "SRC", "g", 2.2), ("PTK2", "PGR", "g", 3),
]
axi_loops = [("PDGF", "g", -15, -45), ("GRB", "o", -10, -40), ("ABL2", "b", 5, -40), ("LCK", "o", -20, -35), ("MAPK14", "o", 25, -25), ("CDK6", "o", 35, 0), ("SRC", "o", -10, -35),
             ("EPHA2", "g", -15, 30), ("MET", "g", 35, 10), ("CDK2B", "o", 5, 40)]

networks = [("Ctrl", ctrl_nodes, ctrl_edges, ctrl_loops, 20, 386), ("ODC", odc_nodes, odc_edges, odc_loops, 740, 1096),
            ("Erlotinib", erl_nodes, erl_edges, erl_loops, 1460, 1834), ("Dasatinib", das_nodes, das_edges, das_loops, 2170, 2561),
            ("Axitinib", axi_nodes, axi_edges, axi_loops, 2900, 3260)]

TARGET_COLORS = {"d": "#0a6cb5", "e": "#e31e24", "a": "#00b140", "u": "#a7a9ac"}
EDGE_COLORS = {"o": "#f9825a", "b": "#6b96d6", "g": "#0b9351"}
NODE_FILLS = {"w": "#ffffff", "p": "#ffd9dd", "k": "#ffa3ab", "s": "#fb8088", "r": "#ee2222"}
NET_DARK = "#4a4a4a"

zmap = LinearSegmentedColormap.from_list("zscore", [
    (0.0, "#0b2a6b"), (0.093, "#0a5fb0"), (0.2, "#1ea0d0"), (0.315, "#8fc3e0"), (0.407, "#c6dbef"), (0.5, "#ffffff"),
    (0.593, "#ffc9b5"), (0.685, "#ff8a65"), (0.778, "#ff5030"), (0.87, "#f01e1e"), (0.963, "#a81010"), (1.0, "#67000d")])

fig = plt.figure(figsize=(W / 100, H / 100), dpi=100, facecolor="white")


def axes_px(x0, y0, x1, y1, **kw):
    """axes from figure pixels, y counted from the top"""
    return fig.add_axes([x0 / W, 1 - y1 / H, (x1 - x0) / W, (y1 - y0) / H], **kw)


px = axes_px(0, 0, W, H, zorder=5)
px.set_xlim(0, W)
px.set_ylim(H, 0)
px.axis("off")
px.patch.set_alpha(0)

# panel letters
for letter, x, y in [("A", 44, 79), ("B", 962, 79), ("C", 42, 1282)]:
    px.text(x, y, letter, fontsize=44, fontweight="bold", va="center", color="#1a1a1a")

# ---- heatmap
HX0, HX1, HY0, HY1 = 198, 645, 202, 1023
heat = axes_px(HX0, HY0, HX1, HY1)
heat.pcolormesh(np.array(zscores), cmap=zmap, vmin=-2.7, vmax=2.7, edgecolors="white", linewidth=2.5)
heat.set_ylim(len(kinases), 0)
heat.axis("off")

col_w = (HX1 - HX0) / len(samples)
for i, name in enumerate(samples):
    px.text(HX0 + (i + 0.5) * col_w, 1034, name, rotation=90, ha="center", va="top", fontsize=21, color=TEXT)
# row labels drift slightly from the cells in the source
for i, name in enumerate(kinases):
    px.text(703, 218.5 + i * 39.6, name, va="center", ha="left", fontsize=21, color=TEXT)

# annotation strip next to heatmap
strip = axes_px(652, 201, 698, 1027)
strip.set_xlim(0, 1)
strip.set_ylim(len(kinases), 0)
strip.axis("off")
for i, codes in enumerate(row_targets):
    seg = 1 / len(codes)
    for j, c in enumerate(codes):
        strip.barh(i + 0.5, seg, left=j * seg, height=1, color=TARGET_COLORS[c], edgecolor="#1f2a36", linewidth=2.2, clip_on=False)

# dendrograms
for xl, xr, top, yl, yr in col_links:
    px.plot([xl, xl, xr, xr], [yl, top, top, yr], color="#222222", lw=2.6, solid_joinstyle="miter")
for top, bot, stem, xt, xb in row_links:
    px.plot([xt, stem, stem, xb], [top, top, bot, bot], color="#222222", lw=2.6, solid_joinstyle="miter")

# colour key
key = axes_px(686, 1061, 896, 1115)
cb = fig.colorbar(heat.collections[0], cax=key, orientation="horizontal", ticks=[-2, -1, 0, 1, 2])
cb.ax.tick_params(labelsize=20, length=8, width=1.8, labelcolor=TEXT, pad=4)
cb.outline.set_linewidth(1.5)
px.text(791, 1177, "Z\u2212Score", ha="center", va="center", fontsize=21, color=TEXT)

# ---- bars
panels = [("ODC", odc_scores, odc_targeted, 1131, 215, 1372, 177, 1353),
          ("Erlotinib", erl_scores, erl_targeted, 1787, 219, 1995, 173, 2010),
          ("Dasatinib", das_scores, das_targeted, 2420, 215, 2636, 167, 2643),
          ("Axitinib", axi_scores, axi_targeted, 3057, 215, 3259, 167, 3283)]
PX_PER_UNIT = 5.07
ROW_PX = 35.47
for title, scores, targeted, x0, y_first, title_x, title_y, label_x in panels:
    ax = axes_px(x0, y_first - ROW_PX / 2, x0 + PX_PER_UNIT * 112, y_first + ROW_PX * 19.5, zorder=3)
    ax.patch.set_alpha(0)
    ax.set_xlim(0, 112)
    ax.set_ylim(19.5, -0.5)
    ypos = np.arange(len(bar_kinases))
    ax.barh(ypos, ctrl_scores, height=0.82, color="white", edgecolor="#222222", linewidth=2.4)
    colors = [TARGET_COLORS[targeted.get(k, "u")] for k in bar_kinases]
    keep = np.array(scores) > 0
    ax.barh(ypos[keep], np.array(scores)[keep], height=0.82, color=np.array(colors)[keep], edgecolor="#222222", linewidth=2.4)
    # control outline stays visible on top of longer bars
    ax.barh(ypos, ctrl_scores, height=0.82, fill=False, edgecolor="#222222", linewidth=2.4)
    ax.set_yticks(ypos, bar_kinases, fontsize=21, color=TEXT)
    ax.tick_params(axis="y", length=0, pad=12)
    ax.set_xticks([0, 20, 40, 60, 80])
    ax.tick_params(axis="x", labelsize=20, length=6, width=1.8, labelcolor=TEXT, pad=3)
    for s in ["top", "right", "left"]:
        ax.spines[s].set_visible(False)
    ax.spines["bottom"].set_position(("outward", (932 - (y_first + ROW_PX * 19.5)) / 1.389))
    ax.spines["bottom"].set_bounds(0, 80)
    ax.spines["bottom"].set_linewidth(2.2)
    px.text(title_x, title_y, title, ha="center", va="center", fontsize=20, color=TEXT)
    px.text(label_x, 1012, "INKA score", ha="center", va="center", fontsize=27, color=TEXT)

# drug legend in the ODC panel
for (label, code), y in zip([("erlotinib (10\u00b5M)", "e"), ("dasatinib (150nM)", "d"), ("axitinib (8\u00b5M)", "a"), ("untargeted", "u")],
                            [773, 811, 848, 885]):
    edge = "#222222" if code == "u" else TARGET_COLORS[code]
    px.add_patch(Rectangle((1296, y - 9), 21, 18, facecolor=TARGET_COLORS[code], edgecolor=edge, linewidth=1.8))
    px.text(1325, y, label, va="center", ha="left", fontsize=20.7, color=TEXT)


# ---- networks
def draw_network(ax, nodes, edges, loops):
    pos = {n[0]: (n[1], n[2]) for n in nodes}
    for e in edges:
        a, b, c = e[:3]
        if a not in pos or b not in pos:
            print("missing node", a, b)
            continue
        lw = e[3] if len(e) > 3 else 2.5
        bend = e[4] if len(e) > 4 else 0.05
        p0, p1 = np.array(pos[a]), np.array(pos[b])
        d = p1 - p0
        ctrl = (p0 + p1) / 2 + bend * np.array([-d[1], d[0]])
        ax.add_patch(PathPatch(Path([p0, ctrl, p1], [Path.MOVETO, Path.CURVE3, Path.CURVE3]), facecolor="none",
                               edgecolor=EDGE_COLORS[c], lw=lw, capstyle="round", zorder=1))
    for name, c, dx, dy in loops:
        x, y = pos[name]
        ax.add_patch(Circle((x + dx, y + dy), 33, fill=False, edgecolor=EDGE_COLORS[c], lw=2.6, zorder=1))
    for name, x, y, kind in nodes:
        if kind == "c":
            ax.add_patch(Circle((x, y), 36, facecolor="#d3d3d3", edgecolor="#3a3a3a", lw=2.8, zorder=2))
        elif kind == "d":
            ax.add_patch(RegularPolygon((x, y), 4, radius=44, facecolor="white", edgecolor="#2a2a2a", lw=2.8, zorder=2))
        elif kind[0] == "h":
            ax.add_patch(RegularPolygon((x, y), 6, radius=40, orientation=np.pi / 6, facecolor=NODE_FILLS[kind[1]],
                                        edgecolor="#3a3a3a", lw=2.8, zorder=2))
        else:
            ax.add_patch(RegularPolygon((x, y), 6, radius=38, orientation=np.pi / 6, facecolor=NODE_FILLS[kind[1]],
                                        edgecolor=NET_DARK, lw=8, zorder=2))
        ax.text(x, y, name, ha="center", va="center", fontsize=5, color="#222222", zorder=3)


for title, nodes, edges, loops, x0, title_x in networks:
    net = axes_px(x0, 1280, x0 + 760, 2040, zorder=2)
    net.set_xlim(0, 1568)
    net.set_ylim(1568, 0)
    net.axis("off")
    draw_network(net, nodes, edges, loops)
    px.text(title_x, 2037, title, ha="center", va="center", fontsize=27, color="#111111")

# shape legend along the bottom
LEG = "#5a5a5a"
px.add_patch(RegularPolygon((877, 2143), 6, radius=33, orientation=np.pi / 6, facecolor="white", edgecolor="#8a8a8a", lw=2))
px.text(933, 2143, "Observed kinase", va="center", fontsize=20.5, color=LEG)
px.add_patch(RegularPolygon((1271, 2143), 4, radius=37, facecolor="white", edgecolor="#2a2a2a", lw=3))
px.text(1344, 2143, "Inferred kinase", va="center", fontsize=20.5, color=LEG)
px.add_patch(Circle((1629, 2143), 30, facecolor="#d3d3d3", edgecolor="#3a3a3a", lw=3))
px.text(1680, 2143, "Non kinase substrate", va="center", fontsize=20.5, color=LEG)
px.add_patch(RegularPolygon((2087, 2143), 6, radius=33, orientation=np.pi / 6, facecolor="white", edgecolor=NET_DARK, lw=8))
px.text(2142, 2143, "Activation loop phosphorylated  kinase", va="center", fontsize=20.5, color=LEG)

fig.savefig("out.png", dpi=100)
